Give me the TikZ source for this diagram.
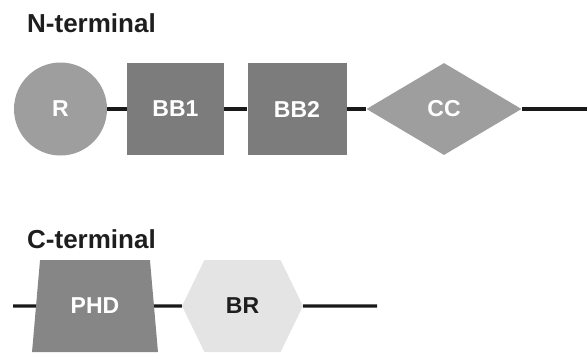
\documentclass[tikz,border=0pt]{standalone}
\usepackage{fontspec}
\setmainfont{Liberation Sans}
\usetikzlibrary{shapes.geometric,shapes.symbols}
\definecolor{lightdom}{HTML}{9E9E9E}
\definecolor{darkdom}{HTML}{7C7C7C}
\definecolor{phdgray}{HTML}{868686}
\definecolor{palegray}{HTML}{E4E4E4}
\definecolor{inkgray}{HTML}{1E1E1E}
\tikzset{
  heading/.style={anchor=base west, inner sep=0pt, font=\fontsize{26bp}{30bp}\selectfont\bfseries, text=inkgray},
  domnode/.style={draw=none, inner sep=0pt, text=white, font=\fontsize{23bp}{26bp}\selectfont\bfseries},
  linker/.style={line width=3.4bp, draw=black!90},
  boxdom/.style={domnode, rectangle, fill=darkdom, minimum height=92bp},
}
\begin{document}
\begin{tikzpicture}[x=1bp, y=-1bp]
  \useasboundingbox (0,0) rectangle (587,353);

  % headings
  \node[heading] (nhead) at (27,32) {N-terminal};
  \node[heading] (chead) at (27,248) {C-terminal};

  % N-terminal domain chain
  \node[domnode, circle, fill=lightdom, minimum size=93bp] (r) at (60.5,109) {R};
  \node[boxdom, minimum width=97bp] (bb1) at (175.5,109) {BB1};
  \node[boxdom, minimum width=99bp] (bb2) at (297,109) {BB2};
  \node[domnode, diamond, fill=lightdom, aspect=1.68, minimum width=155bp, minimum height=92bp] (cc) at (444,109) {CC};
  \coordinate (nend) at (587,109);

  \draw[linker] (r) -- (bb1);
  \draw[linker] (bb1) -- (bb2);
  \draw[linker] (bb2) -- (cc);
  \draw[linker] (cc) -- (nend);

  % C-terminal domain chain
  \coordinate (cstart) at (13,306);
  \node[domnode, trapezium, fill=phdgray, trapezium left angle=77.4, trapezium right angle=77.4,
        trapezium stretches=true, minimum width=126bp, minimum height=92bp] (phd) at (95,306) {PHD};
  \node[domnode, signal, signal to=west and east, signal pointer angle=128, fill=palegray,
        text=inkgray, minimum width=121bp, minimum height=92bp] (br) at (242.5,306) {BR};
  \coordinate (cend) at (377,306);

  \draw[linker] (cstart) -- (phd);
  \draw[linker] (phd) -- (br);
  \draw[linker] (br) -- (cend);
\end{tikzpicture}
\end{document}
